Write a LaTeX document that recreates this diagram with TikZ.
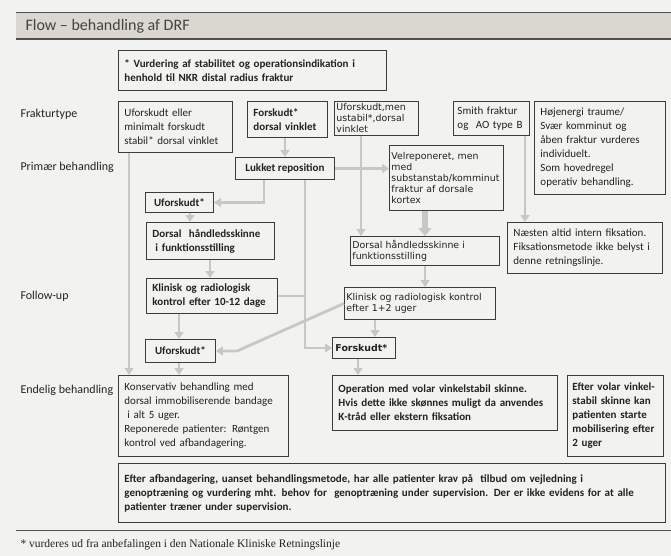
\documentclass[tikz,border=0pt]{standalone}
\usepackage{fontspec}
\setmainfont{Carlito}
\newfontfamily\verdfont{DejaVu Sans}
\newfontfamily\notefont{Liberation Serif}
\usetikzlibrary{arrows.meta}
\definecolor{bgcol}{HTML}{F2F2F0}
\definecolor{bandcol}{HTML}{D9D7CF}
\definecolor{bandline}{HTML}{505050}
\definecolor{linecol}{HTML}{3C3C3C}
\definecolor{flowcol}{HTML}{C8C8C3}
\definecolor{txtcol}{HTML}{222222}
\tikzset{
	box/.style={draw=linecol, fill=bgcol, line width=0.9pt, anchor=north west, align=left,
		inner xsep=6pt, inner ysep=2pt, text=txtcol, font=\fontsize{11}{14}\selectfont},
	bbox/.style={box, font=\bfseries\fontsize{11}{14}\selectfont},
	cbox/.style={bbox, align=center},
	vbox/.style={box, inner xsep=2pt, font=\verdfont\fontsize{9.4}{11}\selectfont},
	vbbox/.style={vbox, inner xsep=3pt, font=\verdfont\bfseries\fontsize{9.4}{11}\selectfont},
	rowlabel/.style={anchor=west, text=txtcol, font=\fontsize{12}{15}\selectfont},
	flow/.style={draw=flowcol, line width=2.8pt, -{Triangle[length=7pt,width=9pt]}},
	bigflow/.style={draw=flowcol, line width=5.5pt, -{Triangle[length=8pt,width=13pt]}},
	bus/.style={draw=flowcol, line width=2.8pt}
}

\begin{document}
\begin{tikzpicture}[x=1pt,y=-1pt]
	%%%%% START %%%%%
	
	\path[use as bounding box, fill=bgcol] (0,0) rectangle (671,556);
	
	\fill[bandcol] (16,12) rectangle (671,39);
	\draw[bandline, line width=0.6pt] (16,12) -- (671,12);
	\draw[bandline, line width=1.2pt] (16,39) -- (671,39);
	\node[anchor=west, text=txtcol!85, font=\fontsize{16}{19}\selectfont] (title) at (22,26) {Flow – behandling af DRF};
	
	\node[rowlabel] (lblfrak) at (17,114) {Frakturtype};
	\node[rowlabel] (lblprim) at (17,167) {Primær behandling};
	\node[rowlabel] (lblfoll) at (17,296) {Follow-up};
	\node[rowlabel] (lblende) at (17,390) {Endelig behandling};
	
	\node[bbox, text width=256pt, minimum height=40pt] (vurd) at (118,50) {* Vurdering af stabilitet og operationsindikation i\\henhold til NKR distal radius fraktur};
	
	% fracture types
	\node[box, text width=102pt, minimum height=51pt] (typeA) at (118,101) {Uforskudt eller\\minimalt forskudt\\stabil* dorsal vinklet};
	\node[bbox, text width=68pt, minimum height=36pt] (typeB) at (247,101) {Forskudt*\\dorsal vinklet};
	\node[vbox, text width=80pt, minimum height=34pt] (typeC) at (334,101) {Uforskudt,men\\ustabil*,dorsal\\vinklet};
	\node[box, inner xsep=4pt, text width=68pt, minimum height=34pt] (typeD) at (453,101) {Smith fraktur\\og\ \ AO type B};
	\node[box, text width=119pt, minimum height=93pt] (typeE) at (534,101) {Højenergi traume/\\Svær komminut og\\åben fraktur vurderes\\individuelt.\\Som hovedregel\\operativ behandling.};
	
	% primary treatment
	\node[cbox, minimum width=99pt, minimum height=22pt] (lukket) at (235,157) {Lukket reposition};
	\node[vbox, text width=110pt, minimum height=65pt] (velrep) at (389,145) {Velreponeret, men\\med\\substanstab/komminut\\fraktur af dorsale\\kortex};
	\node[cbox, minimum width=68pt, minimum height=20pt] (ufor1) at (145,192) {Uforskudt*};
	\node[bbox, text width=116pt, minimum height=37pt] (dorsL) at (146,222) {Dorsal\ \ håndledsskinne\\\hspace*{3pt}i funktionsstilling};
	\node[vbox, text width=145pt, minimum height=29pt] (dorsR) at (350,236) {Dorsal håndledsskinne i\\funktionsstilling};
	\node[box, text width=143pt, minimum height=51pt] (naesten) at (507,222) {Næsten altid intern fiksation.\\Fiksationsmetode ikke belyst i\\denne retningslinje.};
	
	% follow-up
	\node[bbox, text width=119pt, minimum height=35pt] (klinL) at (146,278) {Klinisk og radiologisk\\kontrol efter 10-12 dage};
	\node[vbox, text width=147pt, minimum height=32pt] (klinR) at (344,287) {Klinisk og radiologisk kontrol\\efter 1+2 uger};
	\node[cbox, minimum width=70pt, minimum height=23pt] (ufor2) at (145,339) {Uforskudt*};
	\node[vbbox, text width=57pt, minimum height=21pt] (forskR) at (332,337) {Forskudt*};
	
	% final treatment
	\node[box, text width=158pt, minimum height=81pt] (kons) at (118,375) {Konservativ behandling med\\dorsal immobiliserende bandage\\\hspace*{3pt}i alt 5 uger.\\Reponerede patienter: Røntgen\\kontrol ved afbandagering.};
	\node[bbox, text width=213pt, minimum height=55pt] (oper) at (332,375) {Operation med volar vinkelstabil skinne.\\Hvis dette ikke skønnes muligt da anvendes\\K-tråd eller ekstern fiksation};
	\node[bbox, inner xsep=5pt, text width=86pt, minimum height=81pt] (eftvol) at (567,375) {Efter volar vinkel-\\stabil skinne kan\\patienten starte\\mobilisering efter\\2 uger};
	\node[bbox, text width=535pt, minimum height=59pt] (eftafb) at (118,463) {Efter afbandagering, uanset behandlingsmetode, har alle patienter krav på\ \ tilbud om vejledning i\\genoptræning og vurdering mht. behov for\ \ genoptræning under supervision. Der er ikke evidens for at alle\\patienter træner under supervision.};
	
	% connector columns
	\coordinate (xa) at (129,0);
	\coordinate (xb) at (285,0);
	\coordinate (xl) at (264,0);
	\coordinate (xr) at (305,0);
	\coordinate (xu) at (190,0);
	\coordinate (xd) at (210,0);
	\coordinate (xk) at (179,0);
	\coordinate (xc) at (361,0);
	\coordinate (xv) at (425,0);
	\coordinate (xq) at (375,0);
	\coordinate (xf) at (358,0);
	\coordinate (xs) at (525,0);
	\coordinate (bend) at (237,351);
	
	\draw[flow] (typeA.south -| xa) -- (kons.north -| xa);
	\draw[flow] (typeB.south -| xb) -- (lukket.north -| xb);
	\draw[flow] (lukket.east) -- (velrep.west |- lukket.east);
	\draw[flow] (lukket.south -| xl) |- (ufor1.east);
	\draw[flow] (lukket.south -| xr) |- (forskR.west);
	\draw[bus] (klinL.east) -- (klinL.east -| xr);
	\draw[flow] (ufor1.south -| xu) -- (dorsL.north -| xu);
	\draw[flow] (dorsL.south -| xd) -- (klinL.north -| xd);
	\draw[flow] (klinL.south -| xk) -- (ufor2.north -| xk);
	\draw[flow] (ufor2.south -| xk) -- (kons.north -| xk);
	\draw[flow] (klinR.west) -- (bend) -- (ufor2.east);
	\draw[flow] (typeC.south -| xc) -- (dorsR.north -| xc);
	\draw[bigflow] (velrep.south -| xv) -- (dorsR.north -| xv);
	\draw[flow] (dorsR.south -| xv) -- (klinR.north -| xv);
	\draw[flow] (klinR.south -| xq) -- (forskR.north -| xq);
	\draw[flow] (forskR.south -| xf) -- (oper.north -| xf);
	\draw[flow] (typeD.south -| xs) -- (naesten.north -| xs);
	
	% footnote
	\draw[bandline, line width=0.8pt] (16,530) -- (671,530);
	\node[anchor=west, text=txtcol, font=\notefont\fontsize{11.5}{13}\selectfont] (note) at (17,545) {* vurderes ud fra anbefalingen i den Nationale Kliniske Retningslinje};
	
	%%%%% END %%%%%
\end{tikzpicture}
\end{document}
